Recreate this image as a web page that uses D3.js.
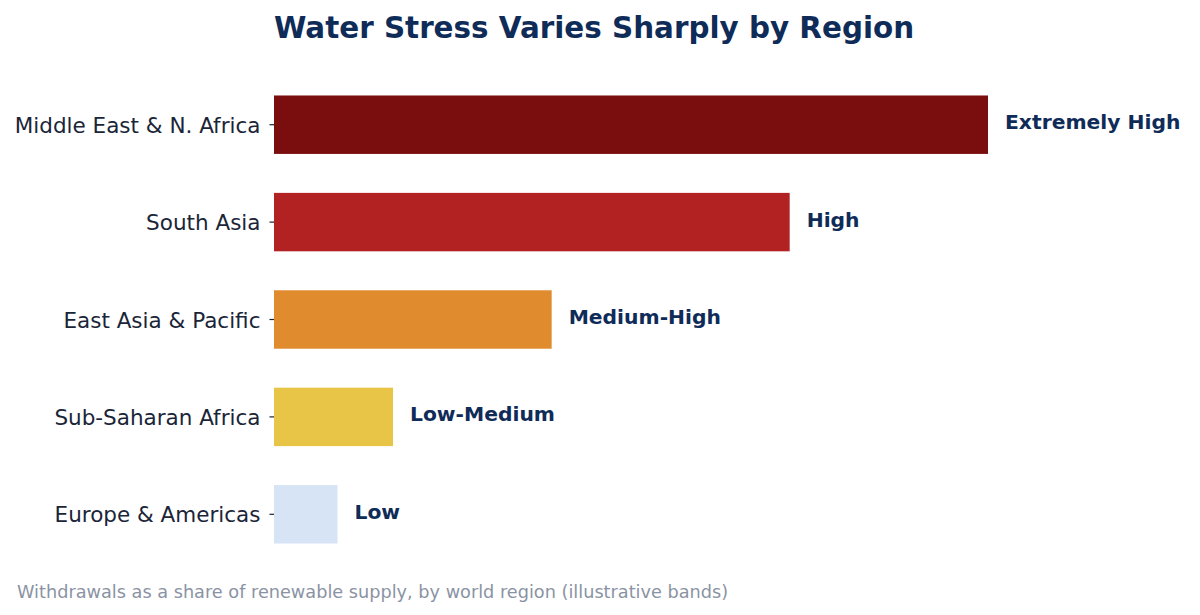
<!DOCTYPE html>
<html><head><meta charset="utf-8">
<script src="https://cdn.jsdelivr.net/npm/d3@7"></script>
<style>body{margin:0;background:#fff}svg{display:block}text{font-family:"DejaVu Sans",sans-serif}</style>
</head><body>
<svg id="c" width="1200" height="615"></svg>
<script>
const regions = ["Middle East & N. Africa","South Asia","East Asia & Pacific","Sub-Saharan Africa","Europe & Americas"];
const stressValues = [4.5, 3.25, 1.75, 0.75, 0.4];
const bandLabels = ["Extremely High","High","Medium-High","Low-Medium","Low"];
const barColors = ["#7a0d0d","#b22222","#e08b2e","#e8c447","#d7e4f5"];
const title = "Water Stress Varies Sharply by Region";
const caption = "Withdrawals as a share of renewable supply, by world region (illustrative bands)";

const svg = d3.select("#c");
const mLeft = 274, mRight = 988, mTop = 76, mBottom = 563;
const x = d3.scaleLinear().domain([0, d3.max(stressValues)]).range([mLeft, mRight]);
const y = d3.scaleBand().domain(regions).range([mTop, mBottom]).paddingInner(0.4).paddingOuter(0.2);

svg.append("text").attr("x", mLeft).attr("y", 38).attr("font-size", 29.4).attr("font-weight", "bold")
  .attr("fill", "#0f2c59").text(title);

svg.selectAll("rect.bar").data(regions).join("rect").attr("class","bar")
  .attr("x", x(0)).attr("y", d => y(d)).attr("height", y.bandwidth())
  .attr("width", (d,i) => x(stressValues[i]) - x(0)).attr("fill", (d,i) => barColors[i]);

const ax = svg.append("g").attr("transform", `translate(${mLeft},0)`)
  .call(d3.axisLeft(y).tickSize(4.5).tickPadding(9));
ax.select(".domain").remove();
ax.selectAll(".tick line").attr("stroke", "#1a2233").attr("stroke-width", 1.2);
ax.selectAll(".tick text").attr("font-size", 21.5).attr("fill", "#1a2538")
  .attr("font-family", "DejaVu Sans").attr("dy", "0.38em");

svg.selectAll("text.val").data(regions).join("text").attr("class","val")
  .attr("x", (d,i) => x(stressValues[i]) + 17).attr("y", d => y(d) + y.bandwidth()/2)
  .attr("dy", "0.22em").attr("font-size", 20.3).attr("font-weight", "bold").attr("fill", "#0f2c59")
  .text((d,i) => bandLabels[i]);

svg.append("text").attr("x", 17).attr("y", 598).attr("font-size", 17.7).attr("fill", "#8a93a3").text(caption);
</script>
</body></html>
